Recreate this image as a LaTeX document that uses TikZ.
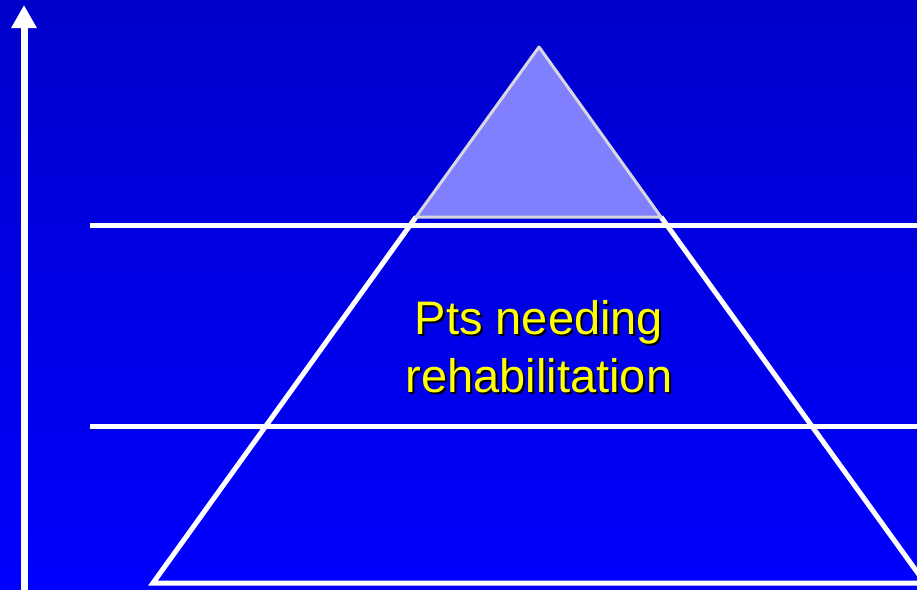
\documentclass[tikz,border=0pt]{standalone}
\usepackage{fontspec}
\setmainfont{Liberation Sans}
\usetikzlibrary{positioning,arrows.meta}
\definecolor{slideTop}{RGB}{0,0,204}
\definecolor{slideBottom}{RGB}{0,0,255}
\definecolor{apexFill}{RGB}{128,128,255}
\definecolor{apexRim}{RGB}{215,215,225}
\definecolor{tierYellow}{RGB}{255,255,0}

\begin{document}
\begin{tikzpicture}[x=1pt, y=-1pt,
  wline/.style={draw=white, line width=5pt},
  tier/.style={align=center, inner sep=0pt, font=\fontsize{47}{58}\selectfont},
  axis/.style={draw=white, line width=7pt, -{Triangle[length=23pt, width=24pt]}}]
\useasboundingbox (0,0) rectangle (917,589);
\clip (0,0) rectangle (917,589);
\shade[top color=slideTop, bottom color=slideBottom] (0,0) rectangle (917,589);
% pyramid corners
\coordinate (apex) at (539,47);
\coordinate (cutL) at (416,217);
\coordinate (cutR) at (661,217);
\coordinate (baseL) at (153,583);
\coordinate (baseR) at (925,583);
% tier lines
\coordinate (hiL) at (90,225);
\coordinate (hiR) at (917,225);
\coordinate (loL) at (90,426);
\coordinate (loR) at (917,426);
\coordinate (axisFoot) at (24,600);
\coordinate (axisTip) at (24,5);
\draw[wline] (hiL) -- (hiR);
\draw[wline] (loL) -- (loR);
\draw[wline] (cutL) -- (baseL) -- (baseR) -- (cutR);
\filldraw[fill=apexFill, draw=apexRim, line width=3pt, line join=round]
  (apex) -- (cutL) -- (cutR) -- cycle;
\draw[axis] (axisFoot) -- (axisTip);
\node[tier, text=black] (rehabShadow) at (541,349) {Pts needing\\rehabilitation};
\node[tier, text=tierYellow] (rehab) at ([shift={(-2,-2)}]rehabShadow.center) {Pts needing\\rehabilitation};
\end{tikzpicture}
\end{document}
